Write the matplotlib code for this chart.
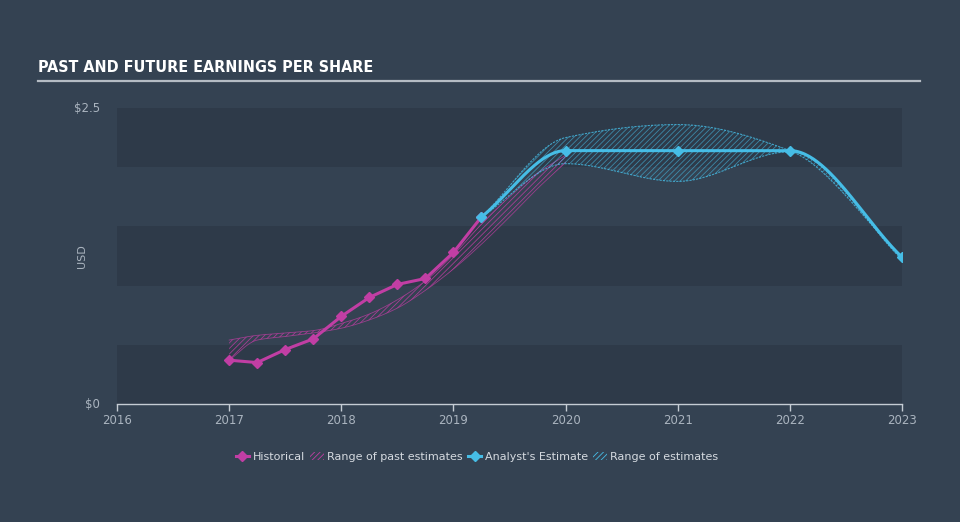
import matplotlib
matplotlib.use('Agg')
import matplotlib.pyplot as plt
from matplotlib.lines import Line2D
from matplotlib.patches import Patch
import numpy as np

# historical EPS (quarterly)
hist_x = [2017.0, 2017.25, 2017.5, 2017.75, 2018.0, 2018.25, 2018.5, 2018.75, 2019.0, 2019.25]
hist_y = [0.37, 0.35, 0.46, 0.55, 0.74, 0.90, 1.01, 1.06, 1.28, 1.58]

# range of past estimates
past_x = [2017.0, 2017.25, 2017.5, 2017.75, 2018.0, 2018.25, 2018.5, 2018.75, 2019.0, 2019.25, 2019.5, 2019.75, 2020.0]
past_hi = [0.54, 0.58, 0.60, 0.62, 0.68, 0.76, 0.88, 1.04, 1.26, 1.52, 1.75, 1.95, 2.10]
past_lo = [0.37, 0.54, 0.57, 0.60, 0.64, 0.71, 0.81, 0.96, 1.14, 1.35, 1.58, 1.82, 2.04]

# analyst estimate
est_x = [2019.25, 2020.0, 2021.0, 2022.0, 2023.0]
est_y = [1.58, 2.14, 2.14, 2.14, 1.24]
est_hi = [1.58, 2.25, 2.36, 2.14, 1.24]
est_lo = [1.58, 2.03, 1.88, 2.13, 1.22]

years = [2016, 2017, 2018, 2019, 2020, 2021, 2022, 2023]

BG = '#344252'
BAND = '#2e3a49'
PINK = '#c13ea4'
BLUE = '#46bde6'
TXT = '#aab4bf'


def monotone(x, y, n=200):
    # monotone cubic (Fritsch-Carlson) just for drawing smooth curves
    x = np.asarray(x, float)
    y = np.asarray(y, float)
    h = np.diff(x)
    d = np.diff(y) / h
    m = np.zeros_like(y)
    m[0], m[-1] = d[0], d[-1]
    for i in range(1, len(x) - 1):
        if d[i - 1] * d[i] <= 0:
            m[i] = 0
        else:
            w1 = 2 * h[i] + h[i - 1]
            w2 = h[i] + 2 * h[i - 1]
            m[i] = (w1 + w2) / (w1 / d[i - 1] + w2 / d[i])
    xs = np.linspace(x[0], x[-1], n)
    idx = np.clip(np.searchsorted(x, xs) - 1, 0, len(x) - 2)
    t = (xs - x[idx]) / h[idx]
    h00 = 2 * t**3 - 3 * t**2 + 1
    h10 = t**3 - 2 * t**2 + t
    h01 = -2 * t**3 + 3 * t**2
    h11 = t**3 - t**2
    ys = h00 * y[idx] + h10 * h[idx] * m[idx] + h01 * y[idx + 1] + h11 * h[idx] * m[idx + 1]
    return xs, ys


fig = plt.figure(figsize=(9.6, 5.22), dpi=100, facecolor=BG)
ax = fig.add_axes([117 / 960, 1 - 404 / 522, 785 / 960, 296 / 522])
ax.set_facecolor(BG)
ax.set_xlim(2016, 2023)
ax.set_ylim(0, 2.5)

# alternating bands
for b in [0, 1.0, 2.0]:
    ax.axhspan(b, b + 0.5, color=BAND, zorder=0, lw=0)

plt.rcParams['hatch.linewidth'] = 0.6

# past range
px, phi = monotone(past_x, past_hi)
_, plo = monotone(past_x, past_lo)
ax.fill_between(px, plo, phi, facecolor='none', edgecolor=PINK, hatch='//////', lw=0, alpha=0.8, zorder=2)
ax.plot(px, phi, color=PINK, lw=0.6, alpha=0.7, zorder=2)
ax.plot(px, plo, color=PINK, lw=0.6, alpha=0.7, zorder=2)

# future range
fx, fhi = monotone(est_x, est_hi)
_, flo = monotone(est_x, est_lo)
ax.fill_between(fx, flo, fhi, facecolor='none', edgecolor=BLUE, hatch='//////', lw=0, alpha=0.6, zorder=3)
ax.plot(fx, fhi, color=BLUE, lw=0.8, ls=(0, (2, 1)), alpha=0.8, zorder=3)
ax.plot(fx, flo, color=BLUE, lw=0.8, ls=(0, (2, 1)), alpha=0.8, zorder=3)

# historical line
ax.plot(hist_x, hist_y, color=PINK, lw=2.2, marker='D', ms=5.5, zorder=5)

# estimate line
ex, ey = monotone(est_x, est_y)
ax.plot(ex, ey, color=BLUE, lw=2.2, zorder=6)
ax.plot(est_x, est_y, ls='none', color=BLUE, marker='D', ms=5.5, zorder=6)

# axes styling
for s in ['top', 'right', 'left']:
    ax.spines[s].set_visible(False)
ax.spines['bottom'].set_color('#c5ccd4')
ax.spines['bottom'].set_linewidth(1)
ax.set_xticks(years)
ax.set_xticklabels([str(y) for y in years])
ax.tick_params(axis='x', colors='#c5ccd4', labelcolor=TXT, labelsize=8.5, length=5, width=1, pad=2)
ax.set_yticks([0, 2.5])
ax.set_yticklabels(['$0', '$2.5'])
ax.tick_params(axis='y', length=0, labelcolor=TXT, labelsize=8.5, pad=12)
for lab in ax.get_yticklabels():
    lab.set_verticalalignment('center')
ax.set_ylabel('USD', color=TXT, fontsize=8, labelpad=4)
ax.yaxis.set_label_coords(-0.038, 0.5)

# title + underline
fig.text(38 / 960, 1 - 68 / 522, 'PAST AND FUTURE EARNINGS PER SHARE', color='white',
         fontsize=11.5, fontweight='bold', fontstretch='condensed', family='DejaVu Sans', va='center')
fig.add_artist(Line2D([38 / 960, 920 / 960], [1 - 81 / 522, 1 - 81 / 522], color='#b5bcc4', lw=1.6))

# legend
handles = [
    Line2D([], [], color=PINK, lw=2.2, marker='D', ms=5.5),
    Patch(facecolor='none', edgecolor=PINK, hatch='//////', lw=0),
    Line2D([], [], color=BLUE, lw=2.2, marker='D', ms=5.5),
    Patch(facecolor='none', edgecolor=BLUE, hatch='//////', lw=0),
]
labels = ['Historical', 'Range of past estimates', "Analyst's Estimate", 'Range of estimates']
leg = fig.legend(handles, labels, loc='center', bbox_to_anchor=(477 / 960, 1 - 457 / 522), ncol=4,
                 frameon=False, fontsize=8, labelcolor='#d5dae0', handlelength=1.2, handletextpad=0.3,
                 columnspacing=0.5, handleheight=0.8)

fig.savefig('out.png', dpi=100, facecolor=BG)
